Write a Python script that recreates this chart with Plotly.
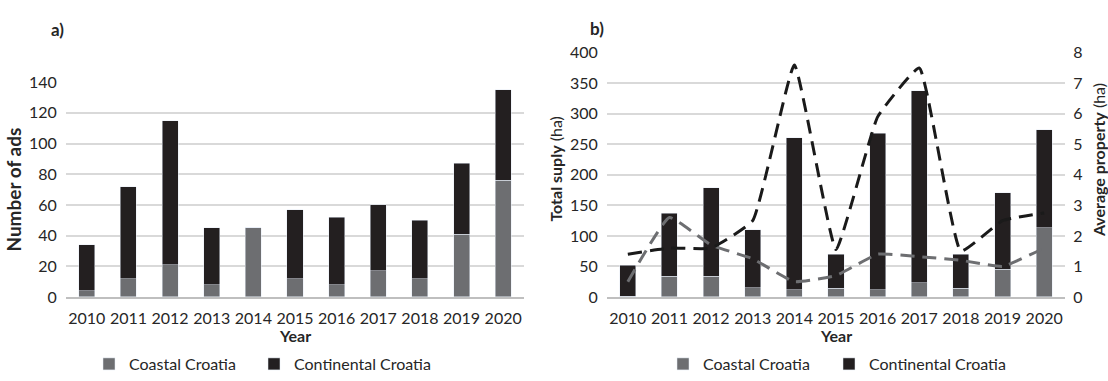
import plotly.graph_objects as go
from plotly.subplots import make_subplots

years = ["2010", "2011", "2012", "2013", "2014", "2015", "2016", "2017", "2018", "2019", "2020"]

# a) Number of ads
ads_coastal = [4, 12, 21, 8, 45, 12, 8, 17, 12, 41, 76]
ads_continental = [30, 60, 94, 37, 0, 45, 44, 43, 38, 46, 59]

# b) Total supply (ha)
supply_coastal = [1, 34, 34, 15, 12, 14, 12, 23, 14, 45, 113]
supply_continental = [51, 103, 145, 95, 249, 56, 256, 315, 56, 126, 161]

# b) Average property (ha)
avg_coastal = [0.5, 2.6, 1.7, 1.25, 0.5, 0.7, 1.4, 1.32, 1.2, 1.0, 1.6]
avg_continental = [1.4, 1.6, 1.6, 2.5, 7.6, 1.55, 5.9, 7.5, 1.5, 2.5, 2.75]

left_ticks = [0, 20, 40, 60, 80, 100, 120, 140]
right_ticks = [0, 50, 100, 150, 200, 250, 300, 350, 400]
avg_ticks = [0, 1, 2, 3, 4, 5, 6, 7, 8]

GRAY = "#6d6e71"
BLACK = "#231f20"
FONT = "Lato"
TXT = "#262626"

fig = make_subplots(rows=1, cols=2, specs=[[{"secondary_y": False}, {"secondary_y": True}]])

fig.add_trace(go.Bar(x=years, y=ads_coastal, name="Coastal Croatia", marker_color=GRAY,
                     legend="legend"), row=1, col=1)
fig.add_trace(go.Bar(x=years, y=ads_continental, name="Continental Croatia", marker_color=BLACK,
                     legend="legend2"), row=1, col=1)

fig.add_trace(go.Bar(x=years, y=supply_coastal, name="Coastal Croatia", marker_color=GRAY,
                     legend="legend3"), row=1, col=2, secondary_y=False)
fig.add_trace(go.Bar(x=years, y=supply_continental, name="Continental Croatia", marker_color=BLACK,
                     legend="legend4"), row=1, col=2, secondary_y=False)

fig.add_trace(go.Scatter(x=years, y=avg_coastal, mode="lines", showlegend=False,
                         line=dict(color="#6d6e71", width=3, dash="14px,8px", shape="spline", smoothing=0.35)),
              row=1, col=2, secondary_y=True)
fig.add_trace(go.Scatter(x=years, y=avg_continental, mode="lines", showlegend=False,
                         line=dict(color="#1a1a1a", width=3, dash="14px,8px", shape="spline", smoothing=0.35)),
              row=1, col=2, secondary_y=True)

tickfont = dict(family=FONT, size=16, color=TXT)
gridc = "#d9d9d9"

def leg(xpx):
    return dict(orientation="h", x=xpx/1108, xanchor="left", y=1-373/381, yanchor="middle",
                font=dict(family=FONT, size=16, color=TXT), bgcolor="rgba(0,0,0,0)")

fig.update_layout(
    width=1108, height=381,
    margin=dict(l=0, r=0, t=0, b=0),
    paper_bgcolor="white", plot_bgcolor="white",
    barmode="stack", bargap=0.615,
    font=dict(family=FONT, color=TXT),
    xaxis=dict(domain=[66/1108, 524/1108], tickfont=tickfont, showgrid=False,
               showline=True, linecolor="#bfbfbf", linewidth=1.5,
               ticks="outside", ticklen=6, tickcolor="rgba(0,0,0,0)"),
    yaxis=dict(domain=[1-302/381, 1-76/381], range=[0, 140], tickvals=left_ticks,
               tickfont=tickfont, showgrid=True, gridcolor=gridc, gridwidth=1.5,
               zeroline=False, ticks="outside", ticklen=5, tickcolor="rgba(0,0,0,0)"),
    xaxis2=dict(domain=[607/1108, 1065/1108], tickfont=tickfont, showgrid=False,
                showline=True, linecolor="#bfbfbf", linewidth=1.5,
                ticks="outside", ticklen=6, tickcolor="rgba(0,0,0,0)"),
    yaxis2=dict(domain=[1-302/381, 1-45/381], range=[0, 400], tickvals=right_ticks,
                tickfont=tickfont, showgrid=True, gridcolor=gridc, gridwidth=1.5,
                zeroline=False, ticks="outside", ticklen=5, tickcolor="rgba(0,0,0,0)"),
    yaxis3=dict(range=[0, 8], tickvals=avg_ticks, tickfont=tickfont, showgrid=False,
                zeroline=False, ticks="outside", ticklen=4, tickcolor="rgba(0,0,0,0)"),
    legend=leg(89),
    legend2=leg(254),
    legend3=leg(663),
    legend4=leg(829),
    showlegend=True,
)

ann = [
    dict(text="<b>a)</b>", x=57/1108, y=1-21/381, size=17, angle=0),
    dict(text="<b>b)</b>", x=597/1108, y=1-19/381, size=17, angle=0),
    dict(text="<b>Number of ads</b>", x=14/1108, y=1-189/381, size=19, angle=-90),
    dict(text="<b>Total suply</b> (ha)", x=556/1108, y=1-168/381, size=16, angle=-90),
    dict(text="<b>Average property</b> (ha)", x=1098/1108, y=1-158/381, size=16, angle=-90),
    dict(text="<b>Year</b>", x=295/1108, y=1-343/381, size=16, angle=0),
    dict(text="<b>Year</b>", x=836/1108, y=1-343/381, size=16, angle=0),
]
for a in ann:
    fig.add_annotation(text=a["text"], x=a["x"], y=a["y"], xref="paper", yref="paper",
                       showarrow=False, textangle=a["angle"], xanchor="center", yanchor="middle",
                       font=dict(family=FONT, size=a["size"], color=TXT))

fig.write_html("out.html")
